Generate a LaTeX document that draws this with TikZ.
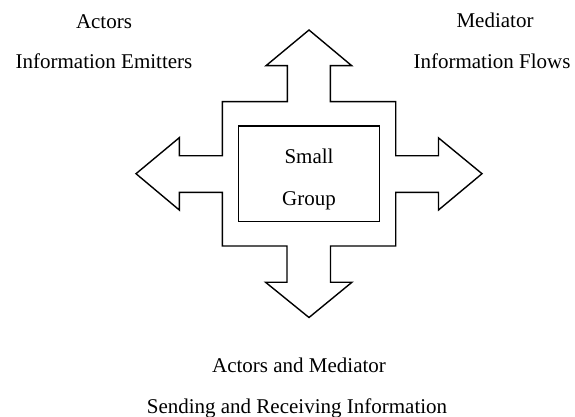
\documentclass[tikz,border=0pt]{standalone}
\usepackage{fontspec}
\setmainfont{Liberation Serif}
\begin{document}
\begin{tikzpicture}[x=1pt,y=-1pt,
  lbl/.style={anchor=base,inner sep=0pt,font=\fontsize{21}{25}\selectfont},
  outline/.style={draw=black,line width=1.4pt,line join=miter}]
\useasboundingbox (0,0) rectangle (575,417);
% cross-shaped arrows
\draw[outline] (309,30) -- (351.7,65.7) -- (330.3,65.7) -- (330.3,101.7) -- (395.7,101.7)
  -- (395.7,155.7) -- (438.5,155.7) -- (438.5,137.9) -- (482,173.7) -- (438.5,210)
  -- (438.5,192.3) -- (395.7,192.3) -- (395.7,246) -- (330.5,246) -- (330.5,282.2)
  -- (352,282.2) -- (309,317.5) -- (265.5,282.2) -- (287,282.2) -- (287,246)
  -- (222.3,246) -- (222.3,192.3) -- (179.3,192.3) -- (179.3,210) -- (136,173.7)
  -- (179.3,137.7) -- (179.3,155.7) -- (222.3,155.7) -- (222.3,101.7) -- (287.3,101.7)
  -- (287.3,65.7) -- (266,65.7) -- cycle;
% inner box
\node[outline,minimum width=141pt,minimum height=95.7pt,inner sep=0pt] (box) at (308.8,173.85) {};
\node[lbl] (small) at (309,163.3) {Small};
\node[lbl] (group) at (309,205) {Group};
% labels
\node[lbl] (actors) at (104,28.3) {Actors};
\node[lbl] (emit) at (104,69) {Information Emitters};
\node[lbl] (med) at (495,28) {Mediator};
\node[lbl] (flows) at (492,68.5) {Information Flows};
\node[lbl] (am) at (299,372.7) {Actors and Mediator};
\node[lbl] (send) at (297,413) {Sending and Receiving Information};
\end{tikzpicture}
\end{document}
